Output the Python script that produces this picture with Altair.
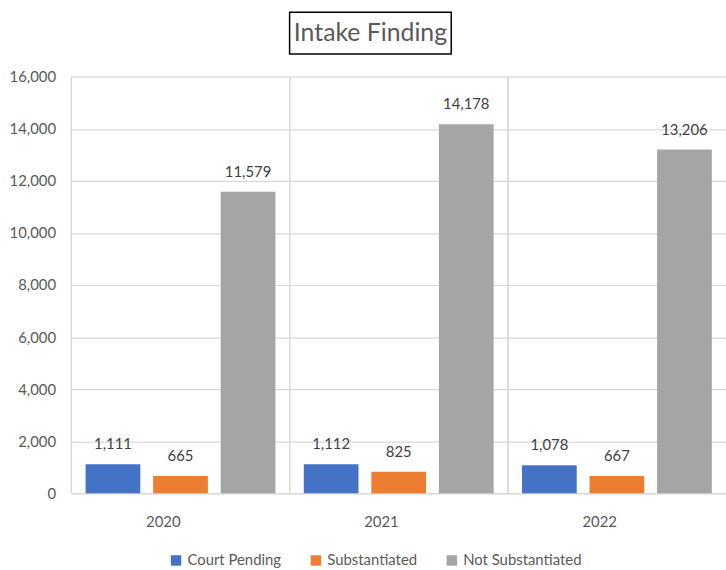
import altair as alt
import pandas as pd

# Intake findings by year
years = ["2020", "2021", "2022"]
categories = ["Court Pending", "Substantiated", "Not Substantiated"]
court_pending = [1111, 1112, 1078]
substantiated = [665, 825, 667]
not_substantiated = [11579, 14178, 13206]
colors = ["#4472C4", "#ED7D31", "#A5A5A5"]

rows = []
for i, y in enumerate(years):
    for cat, vals in zip(categories, [court_pending, substantiated, not_substantiated]):
        rows.append({"year": y, "finding": cat, "count": vals[i]})
df = pd.DataFrame(rows)

FONT = "Lato"
TEXT = "#595959"
GRID = "#D9D9D9"

x_enc = alt.X("year:N", sort=years, title=None,
              scale=alt.Scale(paddingInner=0, paddingOuter=0),
              axis=alt.Axis(labelAngle=0, ticks=False, tickSize=0, labelPadding=28,
                            domainColor=GRID, domainWidth=1.5, labelColor=TEXT,
                            labelFontSize=15, labelFont=FONT, grid=False))
xoff_enc = alt.XOffset("finding:N", sort=categories,
                       scale=alt.Scale(paddingInner=0.19, paddingOuter=0.21))
y_enc = alt.Y("count:Q", title=None,
              scale=alt.Scale(domain=[0, 16000], nice=False),
              axis=alt.Axis(values=list(range(0, 16001, 2000)), format=",d",
                            domain=False, ticks=False, tickSize=0, labelPadding=16,
                            gridColor=GRID, gridWidth=1.2, labelColor=TEXT,
                            labelFontSize=15, labelFont=FONT))
color_enc = alt.Color("finding:N", sort=categories,
                      scale=alt.Scale(domain=categories, range=colors),
                      legend=alt.Legend(title=None, orient="none", direction="horizontal",
                                        legendX=98, legendY=480, symbolType="square",
                                        symbolSize=110, symbolStrokeWidth=0,
                                        labelFontSize=15, labelFont=FONT, labelColor=TEXT,
                                        columnPadding=27, labelOffset=4))

base = alt.Chart(df)

separators = base.mark_rule(color=GRID, strokeWidth=1.2).encode(
    x=alt.X("year:N", sort=years, bandPosition=0)
)

bars = base.mark_bar().encode(x=x_enc, xOffset=xoff_enc, y=y_enc, color=color_enc)

labels = base.mark_text(baseline="bottom", dy=-12, fontSize=15, font=FONT,
                        color="#404040").encode(
    x=x_enc, xOffset=xoff_enc, y=y_enc, text=alt.Text("count:Q", format=",d")
)

title_box = alt.Chart(pd.DataFrame({"t": ["Intake Finding"]})).mark_rect(
    fill="white", stroke="#000000", strokeWidth=1.5
).encode(x=alt.value(220), x2=alt.value(383), y=alt.value(-65), y2=alt.value(-23))

title_text = alt.Chart(pd.DataFrame({"t": ["Intake Finding"]})).mark_text(
    fontSize=25, font=FONT, color=TEXT, align="center", baseline="middle"
).encode(x=alt.value(301.5), y=alt.value(-44), text="t:N")

chart = alt.layer(separators, bars, labels, title_box, title_text).properties(
    width=660, height=420,
    padding={"left": 72, "top": 75, "right": 0, "bottom": 75},
    autosize=alt.AutoSizeParams(type="none"),
    background="white",
).configure_view(stroke=None)

chart.save("out.html", embed_options={"renderer": "svg", "actions": False})
